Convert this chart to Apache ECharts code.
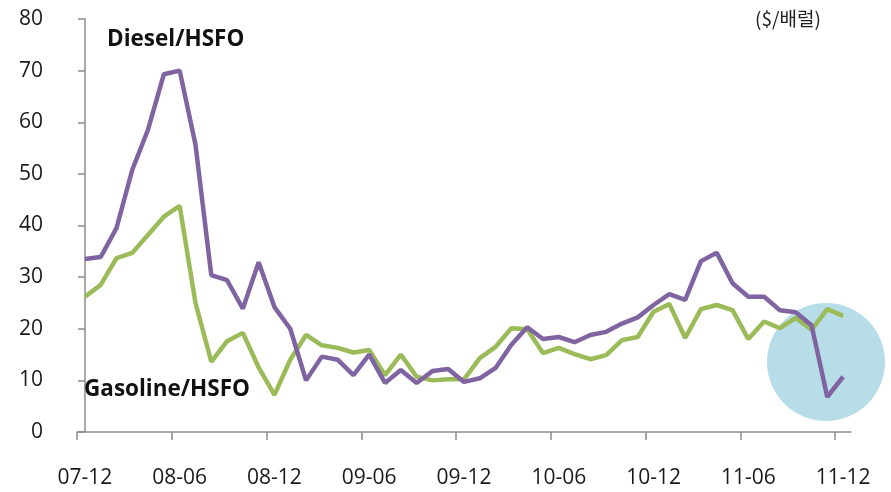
<!DOCTYPE html>
<html>
<head>
<meta charset="utf-8">
<script src="https://cdn.jsdelivr.net/npm/echarts@6/dist/echarts.min.js"></script>
<style>
  html, body { margin: 0; padding: 0; background: #fff; }
  #chart { width: 891px; height: 492px; }
</style>
</head>
<body>
<div id="chart"></div>
<script>
// monthly, 07-12 .. 11-12
const months = [
  '07-12', '08-01', '08-02', '08-03', '08-04', '08-05', '08-06', '08-07', '08-08', '08-09', '08-10', '08-11',
  '08-12', '09-01', '09-02', '09-03', '09-04', '09-05', '09-06', '09-07', '09-08', '09-09', '09-10', '09-11',
  '09-12', '10-01', '10-02', '10-03', '10-04', '10-05', '10-06', '10-07', '10-08', '10-09', '10-10', '10-11',
  '10-12', '11-01', '11-02', '11-03', '11-04', '11-05', '11-06', '11-07', '11-08', '11-09', '11-10', '11-11',
  '11-12'
]

const dieselHsfo = [
  33.5, 33.9, 39.5, 50.8, 58.6, 69.3, 70.0, 55.7, 30.4, 29.4, 23.9, 32.9,
  24.2, 20.0, 10.0, 14.6, 14.0, 11.0, 15.0, 9.5, 12.0, 9.5, 11.8, 12.2,
  9.7, 10.4, 12.4, 16.9, 20.3, 18.0, 18.4, 17.4, 18.8, 19.4, 21.0, 22.2,
  24.6, 26.7, 25.6, 33.1, 34.7, 28.8, 26.2, 26.2, 23.6, 23.2, 20.7, 6.8,
  10.7
]

const gasolineHsfo = [
  26.2, 28.5, 33.7, 34.7, 38.2, 41.7, 43.8, 25.0, 13.6, 17.6, 19.2, 12.5,
  7.2, 14.0, 18.8, 16.8, 16.3, 15.4, 15.9, 11.0, 15.0, 10.7, 10.0, 10.2,
  10.2, 14.3, 16.5, 20.1, 19.9, 15.3, 16.3, 15.1, 14.1, 14.9, 17.8, 18.4,
  23.3, 24.8, 18.2, 23.8, 24.6, 23.6, 18.0, 21.4, 20.1, 22.1, 19.8, 23.8,
  22.5
]

const yTicks = [0, 10, 20, 30, 40, 50, 60, 70, 80]
const labelEvery = 6

// labels on the month (band centre), ticks on the month's left boundary
const labelIdx = months.map((m, i) => i).filter(i => i % labelEvery === 0)
const tickPos = labelIdx.map(i => i - 0.5)

const chart = echarts.init(document.getElementById('chart'))
const axisGrey = '#8c8c8c'
const fontFamily = '"Open Sans", "Noto Sans CJK KR", sans-serif'

chart.setOption({
  animation: false,
  grid: { left: 77, right: 40, top: 19, bottom: 60 },
  xAxis: {
    type: 'value',
    min: -0.5,
    max: months.length - 0.5,
    splitLine: { show: false },
    axisLine: { lineStyle: { color: axisGrey, width: 1.5 } },
    axisTick: { show: true, length: 8, customValues: tickPos, lineStyle: { color: axisGrey, width: 1.5 } },
    axisLabel: {
      customValues: labelIdx,
      margin: 36,
      color: '#1a1a1a',
      fontSize: 21,
      fontFamily: fontFamily,
      formatter: v => months[Math.round(v)] || ''
    }
  },
  yAxis: {
    type: 'value',
    min: yTicks[0],
    max: yTicks[yTicks.length - 1],
    interval: 10,
    splitLine: { show: false },
    axisLine: { show: true, lineStyle: { color: axisGrey, width: 1.5 } },
    axisTick: { show: true, length: 7, lineStyle: { color: axisGrey, width: 1.5 } },
    axisLabel: { margin: 34, color: '#1a1a1a', fontSize: 21, fontFamily: fontFamily }
  },
  graphic: [
    {
      type: 'circle',
      z: 0,
      shape: { cx: 826, cy: 362, r: 59 },
      style: { fill: '#b7dde8' }
    },
    {
      type: 'text', x: 107, y: 40, z: 10,
      style: { text: 'Diesel/HSFO', fontSize: 22.5, fontWeight: 'bold', fill: '#111', fontFamily: fontFamily, verticalAlign: 'middle' }
    },
    {
      type: 'text', x: 84, y: 390, z: 10,
      style: { text: 'Gasoline/HSFO', fontSize: 22.5, fontWeight: 'bold', fill: '#111', fontFamily: fontFamily, verticalAlign: 'middle' }
    },
    {
      type: 'text', x: 755, y: 19, z: 10,
      style: { text: '($/배럴)', fontSize: 19, fill: '#222', fontFamily: '"Noto Sans CJK KR", sans-serif', verticalAlign: 'middle' }
    }
  ],
  series: [
    {
      name: 'Gasoline/HSFO',
      type: 'line',
      data: gasolineHsfo.map((v, i) => [i, v]),
      symbol: 'none',
      lineStyle: { color: '#9bbb59', width: 4.5 },
      z: 3
    },
    {
      name: 'Diesel/HSFO',
      type: 'line',
      data: dieselHsfo.map((v, i) => [i, v]),
      symbol: 'none',
      lineStyle: { color: '#8064a2', width: 4.5 },
      z: 4
    }
  ]
})
</script>
</body>
</html>
